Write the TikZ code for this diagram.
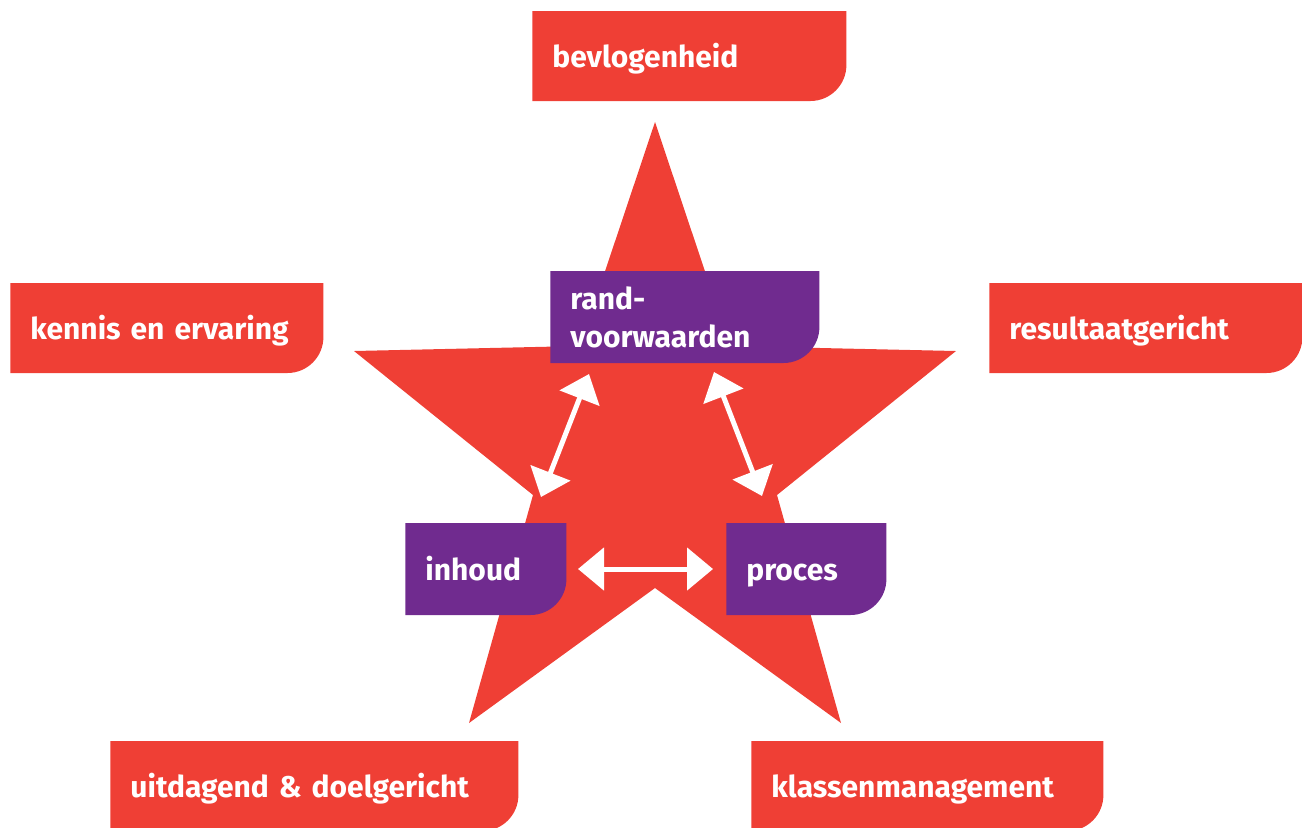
\documentclass[tikz,border=0pt]{standalone}
\usepackage{fontspec}
\setmainfont{Fira Sans}
\usetikzlibrary{arrows.meta}
\definecolor{rood}{RGB}{239,63,53}
\definecolor{paars}{RGB}{112,43,143}

\begin{document}
\begin{tikzpicture}[x=0.5pt,y=-0.5pt,
  hoekbox/.style={anchor=west, minimum height=45pt, inner xsep=10pt, inner ysep=0pt,
    align=left, text=white, font=\fontsize{15}{19}\selectfont\bfseries,
    path picture={\fill[#1] (path picture bounding box.north west)
      -- (path picture bounding box.north east)
      -- ([yshift=18pt]path picture bounding box.south east)
      arc[start angle=0, end angle=-90, radius=18pt]
      -- (path picture bounding box.south west) -- cycle;}},
  regel/.style={text height=14pt, text depth=3pt},
  pijl/.style={draw=white, line width=2.5pt,
    {Triangle[width=21pt,length=13pt]}-{Triangle[width=21pt,length=13pt]}}]
\useasboundingbox (0,0) rectangle (1302,827);
\clip (0,0) rectangle (1302,827);

\fill[rood] (655,122) -- (730,346) -- (956,351) -- (777,495) -- (841,723)
  -- (655,588) -- (469,723) -- (533,495) -- (354,351) -- (580,346) -- cycle;

\node[hoekbox=rood, regel, text width=137pt] (bev) at (532,56) {bevlogenheid};
\node[hoekbox=rood, regel, text width=136.5pt] (kennis) at (10,328) {kennis en ervaring};
\node[hoekbox=rood, regel, text width=136.5pt] (result) at (989,328) {resultaatgericht};
\node[hoekbox=rood, regel, text width=184pt] (uitdagend) at (110,786) {uitdagend \& doelgericht};
\node[hoekbox=rood, regel, text width=156pt] (klassen) at (751,786) {klassenmanagement};

\node[hoekbox=paars, minimum height=46pt, text width=114.5pt] (rand) at (550,317) {rand-\\voorwaarden};
\node[hoekbox=paars, regel, minimum height=46pt, text width=60.5pt] (inhoud) at (405,569) {inhoud};
\node[hoekbox=paars, regel, minimum height=46pt, text width=60pt] (proces) at (726,569) {proces};

\coordinate (rand-l) at (589,374);
\coordinate (inhoud-b) at (541,497);
\coordinate (rand-r) at (714,372);
\coordinate (proces-b) at (762,496);
\coordinate (inhoud-r) at (578,569);
\coordinate (proces-l) at (713,569);

\draw[pijl] (rand-l) -- (inhoud-b);
\draw[pijl] (rand-r) -- (proces-b);
\draw[pijl] (inhoud-r) -- (proces-l);
\end{tikzpicture}
\end{document}
